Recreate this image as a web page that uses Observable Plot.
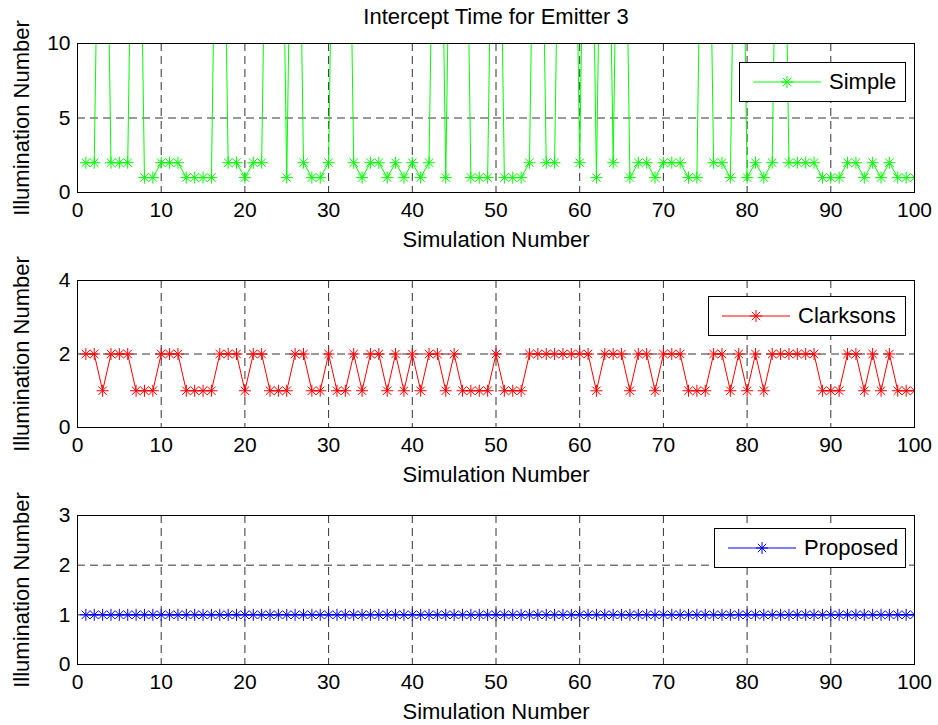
<!DOCTYPE html>
<html>
<head>
<meta charset="utf-8">
<script src="https://cdn.jsdelivr.net/npm/d3@7"></script>
<script src="https://cdn.jsdelivr.net/npm/@observablehq/plot@0.6"></script>
<style>
  html, body { margin: 0; padding: 0; background: #fff; }
  #fig { position: relative; width: 938px; height: 725px; background: #fff; overflow: hidden;
         font-family: "Liberation Sans", Arial, Helvetica, sans-serif; }
  .legend { position: absolute; box-sizing: border-box; border: 1px solid #000; background: #fff; height: 40px; }
  .legend svg { position: absolute; left: 0; top: 0; }
  .legend span { position: absolute; top: 0; line-height: 38px; font-size: 22px; color: #000; white-space: nowrap; }
</style>
</head>
<body>
<div id="fig"></div>
<script>
// ---------------- data ----------------
const simulation = [1,2,3,4,5,6,7,8,9,10,11,12,13,14,15,16,17,18,19,20,
  21,22,23,24,25,26,27,28,29,30,31,32,33,34,35,36,37,38,39,40,
  41,42,43,44,45,46,47,48,49,50,51,52,53,54,55,56,57,58,59,60,
  61,62,63,64,65,66,67,68,69,70,71,72,73,74,75,76,77,78,79,80,
  81,82,83,84,85,86,87,88,89,90,91,92,93,94,95,96,97,98,99,100];

// Simple: spikes go far above the visible range (clipped at 10); estimated at ~40
const simple = [2,2,40,2,2,2,40,1,1,2,
  2,2,1,1,1,1,40,2,2,1,
  2,2,40,40,1,40,2,1,1,2,
  40,40,2,1,2,2,1,2,1,2,
  1,2,40,1,40,40,1,1,1,40,
  1,1,1,2,40,2,2,40,40,2,
  40,1,40,2,40,1,2,2,1,2,
  2,2,1,1,40,2,2,1,40,1,
  2,1,2,40,2,2,2,2,1,1,
  1,2,2,1,2,1,2,1,1,1];

const clarksons = [2,2,1,2,2,2,1,1,1,2,
  2,2,1,1,1,1,2,2,2,1,
  2,2,1,1,1,2,2,1,1,2,
  1,1,2,1,2,2,1,2,1,2,
  1,2,2,1,2,1,1,1,1,2,
  1,1,1,2,2,2,2,2,2,2,
  2,1,2,2,2,1,2,2,1,2,
  2,2,1,1,1,2,2,1,2,1,
  2,1,2,2,2,2,2,2,1,1,
  1,2,2,1,2,1,2,1,1,1];

const proposed = [1,1,1,1,1,1,1,1,1,1,1,1,1,1,1,1,1,1,1,1,
  1,1,1,1,1,1,1,1,1,1,1,1,1,1,1,1,1,1,1,1,
  1,1,1,1,1,1,1,1,1,1,1,1,1,1,1,1,1,1,1,1,
  1,1,1,1,1,1,1,1,1,1,1,1,1,1,1,1,1,1,1,1,
  1,1,1,1,1,1,1,1,1,1,1,1,1,1,1,1,1,1,1,1];

const xTicks = [0,10,20,30,40,50,60,70,80,90,100];
const yTicks1 = [0,5,10];
const yTicks2 = [0,2,4];
const yTicks3 = [0,1,2,3];

const titleText = "Intercept Time for Emitter 3";
const xLabel = "Simulation Number";
const yLabel = "Illumination Number";
const seriesNames = ["Simple", "Clarksons", "Proposed"];
const seriesColors = ["#00ff00", "#ff0000", "#0000ff"];

// ---------------- helpers ----------------
// MATLAB-style '*' marker: plus + x
const starSymbol = {
  draw(ctx, size) {
    const r = Math.sqrt(size / Math.PI);
    const d = r * 0.7;
    ctx.moveTo(-r, 0); ctx.lineTo(r, 0);
    ctx.moveTo(0, -r); ctx.lineTo(0, r);
    ctx.moveTo(-d, -d); ctx.lineTo(d, d);
    ctx.moveTo(-d, d); ctx.lineTo(d, -d);
  }
};

const FONT = "'Liberation Sans', Arial, Helvetica, sans-serif";
const intFmt = d => String(d);

function panel({values, color, yMax, yTicks, height, marginTop, marginBottom, title}) {
  const rows = simulation.map((s, i) => ({s, v: values[i]}));
  const marks = [
    Plot.gridX(xTicks.slice(1, -1), {stroke: "#333", strokeOpacity: 1, strokeDasharray: "8,5", strokeWidth: 1}),
    Plot.gridY(yTicks.slice(1, -1), {stroke: "#333", strokeOpacity: 1, strokeDasharray: "8,5", strokeWidth: 1}),
    Plot.line(rows, {x: "s", y: "v", stroke: color, strokeWidth: 1, clip: true}),
    Plot.dot(rows, {x: "s", y: "v", symbol: starSymbol, r: 6, stroke: color, fill: "none", strokeWidth: 1, clip: true}),
    Plot.frame({stroke: "#000", strokeWidth: 1}),
    Plot.axisX({ticks: xTicks, tickFormat: intFmt, tickSize: 0, tickPadding: 10, label: null, fontSize: 21}),
    Plot.axisY({ticks: yTicks, tickFormat: intFmt, tickSize: 0, tickPadding: 7, label: null, fontSize: 21}),
    Plot.text([xLabel], {text: d => d, frameAnchor: "bottom", textAnchor: "middle", lineAnchor: "middle", dy: 47, fontSize: 22}),
    Plot.text([yLabel], {text: d => d, frameAnchor: "left", textAnchor: "middle", lineAnchor: "middle", dx: -56, rotate: -90, fontSize: 22})
  ];
  if (title) marks.push(Plot.text([title], {text: d => d, frameAnchor: "top", textAnchor: "middle", lineAnchor: "middle", dy: -27, fontSize: 22}));
  return Plot.plot({
    width: 938,
    height,
    marginLeft: 77,
    marginRight: 24,
    marginTop,
    marginBottom,
    x: {domain: [0, 100]},
    y: {domain: [0, yMax]},
    style: {fontFamily: FONT, fontSize: "21px", color: "#000", background: "transparent", overflow: "visible"},
    marks
  });
}

function legend(name, color, left, top, width) {
  const div = document.createElement("div");
  div.className = "legend";
  div.style.left = left + "px";
  div.style.top = top + "px";
  div.style.width = width + "px";
  const ns = "http://www.w3.org/2000/svg";
  const svg = document.createElementNS(ns, "svg");
  svg.setAttribute("width", 90);
  svg.setAttribute("height", 38);
  const cy = 19, cx = 47, r = 6, d = 4.2;
  const path = document.createElementNS(ns, "path");
  path.setAttribute("d",
    `M13,${cy}H81 M${cx - r},${cy}H${cx + r} M${cx},${cy - r}V${cy + r} ` +
    `M${cx - d},${cy - d}L${cx + d},${cy + d} M${cx - d},${cy + d}L${cx + d},${cy - d}`);
  path.setAttribute("stroke", color);
  path.setAttribute("fill", "none");
  path.setAttribute("stroke-width", 1);
  svg.appendChild(path);
  div.appendChild(svg);
  const span = document.createElement("span");
  span.style.left = "89px";
  span.textContent = name;
  div.appendChild(span);
  return div;
}

const fig = document.getElementById("fig");

const p1 = panel({values: simple, color: seriesColors[0], yMax: 10, yTicks: yTicks1,
  height: 252, marginTop: 43, marginBottom: 60, title: titleText});
const p2 = panel({values: clarksons, color: seriesColors[1], yMax: 4, yTicks: yTicks2,
  height: 235, marginTop: 28, marginBottom: 60});
const p3 = panel({values: proposed, color: seriesColors[2], yMax: 3, yTicks: yTicks3,
  height: 238, marginTop: 28, marginBottom: 61});

[[p1, 0], [p2, 252], [p3, 487]].forEach(([el, top]) => {
  el.style.position = "absolute";
  el.style.left = "0px";
  el.style.top = top + "px";
  fig.appendChild(el);
});

fig.appendChild(legend(seriesNames[0], seriesColors[0], 739, 62, 167));
fig.appendChild(legend(seriesNames[1], seriesColors[1], 708, 296, 198));
fig.appendChild(legend(seriesNames[2], seriesColors[2], 714, 528, 192));
</script>
</body>
</html>
